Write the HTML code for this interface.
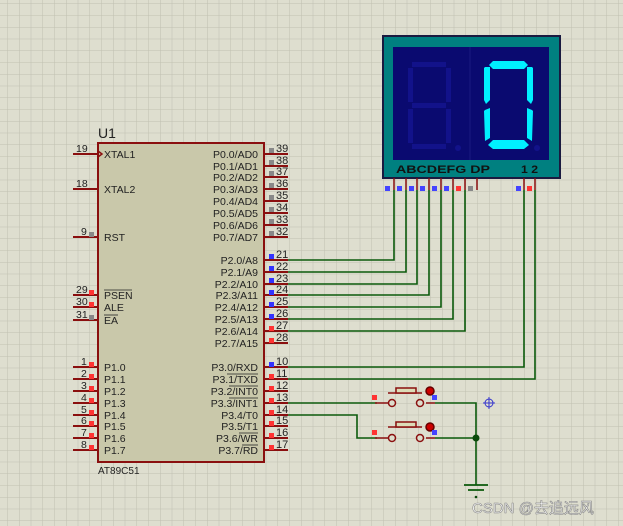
<!DOCTYPE html>
<html><head><meta charset="utf-8"><style>
html,body{margin:0;padding:0;background:#dcdccc;}
svg{display:block}
text{font-family:"Liberation Sans",sans-serif;}
</style></head><body>
<svg width="623" height="526" viewBox="0 0 623 526" xmlns="http://www.w3.org/2000/svg">
<defs>
<pattern id="g" x="489" y="403" width="11.75" height="11.75" patternUnits="userSpaceOnUse">
<rect width="11.75" height="11.75" fill="#dedecf"/>
<path d="M0 0H11.75M0 0V11.75" stroke="#c0c0b0" stroke-width="1"/>
</pattern>
</defs>
<rect width="623" height="526" fill="url(#g)"/>

<!-- chip -->
<rect x="98" y="143" width="166" height="319" fill="#c9c8aa" stroke="#8a0f0f" stroke-width="2"/>
<text x="98" y="138" font-size="14" fill="#222">U1</text>
<text x="98" y="474" font-size="10" fill="#222">AT89C51</text>

<g stroke="#8a0f0f" stroke-width="2">
<line x1="73" y1="154" x2="98" y2="154"/><line x1="73" y1="189" x2="98" y2="189"/>
<line x1="73" y1="237" x2="98" y2="237"/>
<line x1="73" y1="295" x2="98" y2="295"/><line x1="73" y1="307" x2="98" y2="307"/><line x1="73" y1="320" x2="98" y2="320"/>
<line x1="73" y1="367" x2="98" y2="367"/><line x1="73" y1="379" x2="98" y2="379"/><line x1="73" y1="391" x2="98" y2="391"/><line x1="73" y1="403" x2="98" y2="403"/><line x1="73" y1="415" x2="98" y2="415"/><line x1="73" y1="426" x2="98" y2="426"/><line x1="73" y1="438" x2="98" y2="438"/><line x1="73" y1="450" x2="98" y2="450"/>
<line x1="264" y1="154" x2="288" y2="154"/><line x1="264" y1="166" x2="288" y2="166"/><line x1="264" y1="177" x2="288" y2="177"/><line x1="264" y1="189" x2="288" y2="189"/><line x1="264" y1="201" x2="288" y2="201"/><line x1="264" y1="213" x2="288" y2="213"/><line x1="264" y1="225" x2="288" y2="225"/><line x1="264" y1="237" x2="288" y2="237"/>
<line x1="264" y1="260" x2="288" y2="260"/><line x1="264" y1="272" x2="288" y2="272"/><line x1="264" y1="284" x2="288" y2="284"/><line x1="264" y1="295" x2="288" y2="295"/><line x1="264" y1="307" x2="288" y2="307"/><line x1="264" y1="319" x2="288" y2="319"/><line x1="264" y1="331" x2="288" y2="331"/><line x1="264" y1="343" x2="288" y2="343"/>
<line x1="264" y1="367" x2="288" y2="367"/><line x1="264" y1="379" x2="288" y2="379"/><line x1="264" y1="391" x2="288" y2="391"/><line x1="264" y1="403" x2="288" y2="403"/><line x1="264" y1="415" x2="288" y2="415"/><line x1="264" y1="426" x2="288" y2="426"/><line x1="264" y1="438" x2="288" y2="438"/><line x1="264" y1="450" x2="288" y2="450"/>
</g>
<path d="M98 151 L102 154 L98 157" fill="none" stroke="#8a0f0f" stroke-width="1.5"/>

<g font-size="10.5" fill="#222">
<text x="76" y="152">19</text><text x="76" y="187">18</text><text x="81" y="235">9</text>
<text x="76" y="293">29</text><text x="76" y="305">30</text><text x="76" y="318">31</text>
<text x="81" y="365">1</text><text x="81" y="377">2</text><text x="81" y="389">3</text><text x="81" y="401">4</text><text x="81" y="413">5</text><text x="81" y="424">6</text><text x="81" y="436">7</text><text x="81" y="448">8</text>
<text x="104" y="158">XTAL1</text><text x="104" y="193">XTAL2</text><text x="104" y="241">RST</text>
<text x="104" y="299">PSEN</text><text x="104" y="311">ALE</text><text x="104" y="324">EA</text>
<text x="104" y="371">P1.0</text><text x="104" y="383">P1.1</text><text x="104" y="395">P1.2</text><text x="104" y="407">P1.3</text><text x="104" y="419">P1.4</text><text x="104" y="430">P1.5</text><text x="104" y="442">P1.6</text><text x="104" y="454">P1.7</text>
<g text-anchor="end">
<text x="258" y="158">P0.0/AD0</text><text x="258" y="170">P0.1/AD1</text><text x="258" y="181">P0.2/AD2</text><text x="258" y="193">P0.3/AD3</text><text x="258" y="205">P0.4/AD4</text><text x="258" y="217">P0.5/AD5</text><text x="258" y="229">P0.6/AD6</text><text x="258" y="241">P0.7/AD7</text>
<text x="258" y="264">P2.0/A8</text><text x="258" y="276">P2.1/A9</text><text x="258" y="288">P2.2/A10</text><text x="258" y="299">P2.3/A11</text><text x="258" y="311">P2.4/A12</text><text x="258" y="323">P2.5/A13</text><text x="258" y="335">P2.6/A14</text><text x="258" y="347">P2.7/A15</text>
<text x="258" y="371">P3.0/RXD</text><text x="258" y="383">P3.1/TXD</text><text x="258" y="395">P3.2/INT0</text><text x="258" y="407">P3.3/INT1</text><text x="258" y="419">P3.4/T0</text><text x="258" y="430">P3.5/T1</text><text x="258" y="442">P3.6/WR</text><text x="258" y="454">P3.7/RD</text>
</g>
<g font-size="11">
<text x="276" y="152">39</text><text x="276" y="164">38</text><text x="276" y="175">37</text><text x="276" y="187">36</text><text x="276" y="199">35</text><text x="276" y="211">34</text><text x="276" y="223">33</text><text x="276" y="235">32</text>
<text x="276" y="258">21</text><text x="276" y="270">22</text><text x="276" y="282">23</text><text x="276" y="293">24</text><text x="276" y="305">25</text><text x="276" y="317">26</text><text x="276" y="329">27</text><text x="276" y="341">28</text>
<text x="276" y="365">10</text><text x="276" y="377">11</text><text x="276" y="389">12</text><text x="276" y="401">13</text><text x="276" y="413">14</text><text x="276" y="424">15</text><text x="276" y="436">16</text><text x="276" y="448">17</text>
</g>
</g>
<g stroke="#222" stroke-width="0.8">
<line x1="104" y1="290" x2="132" y2="290"/><line x1="104" y1="315" x2="118" y2="315"/>
<line x1="227" y1="374" x2="258" y2="374"/><line x1="229" y1="386" x2="258" y2="386"/><line x1="229" y1="398" x2="258" y2="398"/>
<line x1="239" y1="433" x2="258" y2="433"/><line x1="242" y1="445" x2="258" y2="445"/>
</g>
<g>
<rect x="89" y="232" width="5" height="5" fill="#888"/>
<rect x="89" y="290" width="5" height="5" fill="#f33"/><rect x="89" y="302" width="5" height="5" fill="#f33"/><rect x="89" y="315" width="5" height="5" fill="#888"/>
<g fill="#f33"><rect x="89" y="362" width="5" height="5"/><rect x="89" y="374" width="5" height="5"/><rect x="89" y="386" width="5" height="5"/><rect x="89" y="398" width="5" height="5"/><rect x="89" y="410" width="5" height="5"/><rect x="89" y="421" width="5" height="5"/><rect x="89" y="433" width="5" height="5"/><rect x="89" y="445" width="5" height="5"/></g>
<g fill="#888"><rect x="269" y="148" width="5" height="5"/><rect x="269" y="160" width="5" height="5"/><rect x="269" y="171" width="5" height="5"/><rect x="269" y="183" width="5" height="5"/><rect x="269" y="195" width="5" height="5"/><rect x="269" y="207" width="5" height="5"/><rect x="269" y="219" width="5" height="5"/><rect x="269" y="231" width="5" height="5"/></g>
<g fill="#33f"><rect x="269" y="254" width="5" height="5"/><rect x="269" y="266" width="5" height="5"/><rect x="269" y="278" width="5" height="5"/><rect x="269" y="290" width="5" height="5"/><rect x="269" y="302" width="5" height="5"/><rect x="269" y="314" width="5" height="5"/><rect x="269" y="362" width="5" height="5"/></g>
<g fill="#f33"><rect x="269" y="326" width="5" height="5"/><rect x="269" y="338" width="5" height="5"/><rect x="269" y="374" width="5" height="5"/><rect x="269" y="386" width="5" height="5"/><rect x="269" y="398" width="5" height="5"/><rect x="269" y="410" width="5" height="5"/><rect x="269" y="421" width="5" height="5"/><rect x="269" y="433" width="5" height="5"/><rect x="269" y="445" width="5" height="5"/></g>
</g>

<!-- display -->
<rect x="383" y="36" width="177" height="142" fill="#008080" stroke="#1a1a40" stroke-width="2"/>
<rect x="393" y="47" width="156" height="113" fill="#0a0a70"/>
<line x1="470" y1="47" x2="470" y2="160" stroke="#1a1a80" stroke-width="1"/>
<g fill="#12128a">
<rect x="412" y="62" width="34" height="5"/><rect x="408" y="68" width="5" height="34"/><rect x="446" y="68" width="5" height="34"/>
<rect x="412" y="103" width="34" height="5"/><rect x="408" y="109" width="5" height="34"/><rect x="446" y="109" width="5" height="34"/>
<rect x="412" y="144" width="34" height="5"/><circle cx="458" cy="148" r="3"/><circle cx="537" cy="148" r="3"/>
</g>
<g fill="#00f0ff">
<polygon points="493,61 524,61 528,65 524,69 493,69 489,65"/>
<polygon points="485,67 490,67 490,100 486,104 484,100 484,68"/>
<polygon points="532,67 527,67 527,100 531,104 533,100 533,68"/>
<polygon points="485,110 490,108 490,138 485,141 484,111"/>
<polygon points="532,110 527,108 527,138 532,141 533,111"/>
<polygon points="493,140 524,140 529,145 524,149 493,149 488,145"/>
</g>
<text x="396" y="173" font-size="11" font-weight="bold" fill="#111" textLength="94" lengthAdjust="spacingAndGlyphs">ABCDEFG DP</text>
<text x="521" y="173" font-size="11" font-weight="bold" fill="#111" textLength="17" lengthAdjust="spacingAndGlyphs">1 2</text>
<g stroke="#8a0f0f" stroke-width="1.5">
<line x1="394" y1="178" x2="394" y2="190"/><line x1="406" y1="178" x2="406" y2="190"/><line x1="417" y1="178" x2="417" y2="190"/><line x1="429" y1="178" x2="429" y2="190"/><line x1="441" y1="178" x2="441" y2="190"/><line x1="453" y1="178" x2="453" y2="190"/><line x1="465" y1="178" x2="465" y2="190"/><line x1="477" y1="178" x2="477" y2="190"/><line x1="524" y1="178" x2="524" y2="190"/><line x1="535" y1="178" x2="535" y2="190"/>
</g>
<g fill="#44f"><rect x="385" y="186" width="5" height="5"/><rect x="397" y="186" width="5" height="5"/><rect x="409" y="186" width="5" height="5"/><rect x="420" y="186" width="5" height="5"/><rect x="432" y="186" width="5" height="5"/><rect x="444" y="186" width="5" height="5"/><rect x="516" y="186" width="5" height="5"/></g>
<rect x="456" y="186" width="5" height="5" fill="#f33"/><rect x="468" y="186" width="5" height="5" fill="#888"/><rect x="527" y="186" width="5" height="5" fill="#f33"/>

<!-- wires -->
<g fill="none" stroke="#0b5a0b" stroke-width="1.6">
<path d="M288 260H394V190"/><path d="M288 272H406V190"/><path d="M288 284H417V190"/><path d="M288 295H429V190"/><path d="M288 307H441V190"/><path d="M288 319H453V190"/><path d="M288 331H465V190"/>
<path d="M288 367H524V190"/><path d="M288 379H535V190"/>
<path d="M288 403H377"/><path d="M435 403H476V485"/>
<path d="M288 415H357V438H377"/><path d="M435 438H476"/>
<path d="M464 485H488M468 490H484" stroke-width="1.8"/>
</g>
<circle cx="476" cy="438" r="3.5" fill="#0b4a0b"/>
<circle cx="476" cy="497" r="1.3" fill="#0b4a0b"/>

<g stroke="#8a0f0f" stroke-width="1.5" fill="#dcdccc">
<line x1="375" y1="403" x2="389" y2="403"/><line x1="426" y1="403" x2="435" y2="403"/>
<circle cx="392" cy="403" r="3.5"/><circle cx="420" cy="403" r="3.5"/>
<line x1="388" y1="393" x2="422" y2="393"/><rect x="396" y="388" width="20" height="5" fill="#dcdcb8"/>
<circle cx="430" cy="391" r="4" fill="#c00" stroke="#600"/>
<line x1="375" y1="438" x2="389" y2="438"/><line x1="426" y1="438" x2="435" y2="438"/>
<circle cx="392" cy="438" r="3.5"/><circle cx="420" cy="438" r="3.5"/>
<line x1="388" y1="427" x2="422" y2="427"/><rect x="396" y="422" width="20" height="5" fill="#dcdcb8"/>
<circle cx="430" cy="427" r="4" fill="#c00" stroke="#600"/>
</g>
<rect x="372" y="395" width="5" height="5" fill="#f33"/><rect x="432" y="395" width="5" height="5" fill="#44f"/>
<rect x="372" y="430" width="5" height="5" fill="#f33"/><rect x="432" y="430" width="5" height="5" fill="#44f"/>

<g stroke="#3333cc" stroke-width="1" fill="none"><circle cx="489" cy="403" r="4"/><path d="M483 403H495M489 397V409"/></g>

<text x="472" y="513" font-size="15" fill="#fff" stroke="#888" stroke-width="0.6" font-family="Liberation Sans,Noto Sans CJK SC,sans-serif">CSDN @去追远风</text>
</svg>
</body></html>
